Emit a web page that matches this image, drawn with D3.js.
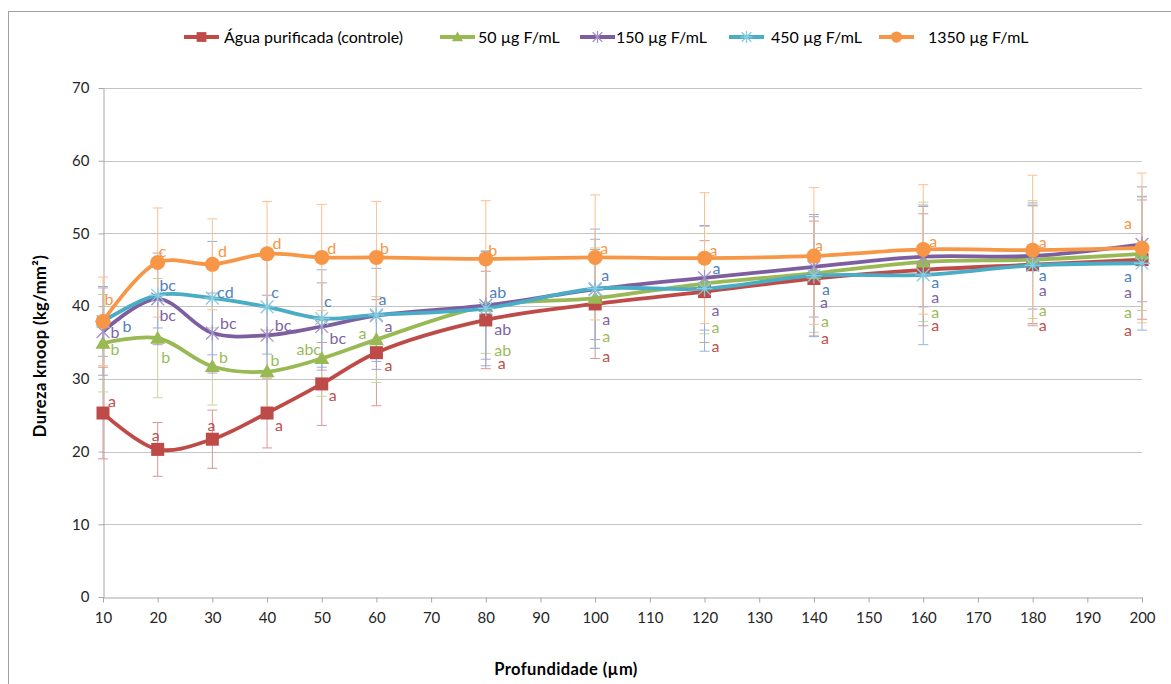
<!DOCTYPE html>
<html>
<head>
<meta charset="utf-8">
<script src="https://cdn.jsdelivr.net/npm/d3@7"></script>
<style>
  body { margin: 0; background: #fff; }
  svg { display: block; font-family: Lato, "Noto Sans", sans-serif; }
</style>
</head>
<body>
<svg id="chart" width="1171" height="684"></svg>
<script>
// depth (µm)
const depths = [10, 20, 30, 40, 50, 60, 80, 100, 120, 140, 160, 180, 200];
const xTicks = d3.range(10, 201, 10);
const yTicks = [0, 10, 20, 30, 40, 50, 60, 70];

const seriesNames = [
  "Água purificada (controle)",
  "50 µg F/mL",
  "150 µg F/mL",
  "450 µg F/mL",
  "1350 µg F/mL",
];

// Knoop hardness means, ± error and letters
const aguaMean = [25.3, 20.3, 21.7, 25.3, 29.3, 33.6, 38.1, 40.3, 42.0, 43.8, 45.0, 45.7, 46.4];
const aguaErr = [6.3, 3.7, 4.0, 4.8, 5.7, 7.3, 6.7, 7.5, 7.0, 7.9, 7.7, 8.1, 8.2];
const aguaLetters = ["a", "a", "a", "a", "a", "a", "a", "a", "a", "a", "a", "a", "a"];

const f50Mean = [34.9, 35.6, 31.7, 31.0, 32.8, 35.4, 40.0, 41.1, 43.1, 44.5, 46.1, 46.4, 47.2];
const f50Err = [6.7, 8.2, 5.3, 5.7, 5.2, 5.9, 6.5, 6.9, 6.9, 8.1, 8.2, 8.1, 7.8];
const f50Letters = ["b", "b", "b", "b", "abc", "a", "ab", "a", "a", "a", "a", "a", "a"];

const f150Mean = [36.5, 41.0, 36.3, 36.0, 37.2, 38.7, 40.1, 42.3, 43.9, 45.4, 46.8, 46.9, 48.5];
const f150Err = [6.0, 6.3, 5.5, 5.5, 6.0, 7.4, 7.4, 6.9, 7.2, 6.9, 6.9, 7.3, 7.9];
const f150Letters = ["b", "bc", "bc", "bc", "bc", "a", "ab", "a", "a", "a", "a", "a", "a"];

const f450Mean = [37.9, 41.5, 41.1, 39.9, 38.3, 38.8, 39.7, 42.4, 42.4, 44.2, 44.3, 45.6, 45.9];
const f450Err = [4.8, 4.5, 7.8, 6.5, 6.7, 6.4, 7.9, 8.2, 8.6, 8.4, 9.6, 8.3, 9.2];
const f450Letters = ["b", "bc", "cd", "c", "c", "a", "ab", "a", "a", "a", "a", "a", "a"];

const f1350Mean = [37.9, 46.0, 45.75, 47.2, 46.7, 46.7, 46.5, 46.7, 46.6, 46.9, 47.8, 47.7, 48.0];
const f1350Err = [6.1, 7.5, 6.25, 7.2, 7.3, 7.7, 8.0, 8.6, 9.0, 9.4, 8.9, 10.3, 10.3];
const f1350Letters = ["b", "c", "d", "d", "d", "b", "b", "a", "a", "a", "a", "a", "a"];

// label placement (px from the point) — layout only
const aguaLabelPos = [[9,-12],[-2,-14],[-1,-14],[12,12],[11,11],[12,13],[16,43],[11,52],[11,55],[11,60],[12,56],[10,61],[-14,71]];
const f50LabelPos = [[12,6],[8,19],[11,-9],[8,-11],[-13,-9],[-14,-6],[17,44],[11,38],[11,44],[11,48],[12,51],[10,51],[-14,59]];
const f150LabelPos = [[12,1],[10,17],[16,-10],[16,-10],[16,12],[12,11],[17,24],[11,30],[11,33],[10,36],[12,41],[10,34],[-14,48]];
const f450LabelPos = [[24,5],[10,-10],[13,-6],[8,-14],[6,-17],[6,-15],[12,-16],[10,-13],[12,-20],[12,14],[12,8],[10,10],[-14,13]];
const f1350LabelPos = [[6,-22],[5,-11],[10,-13],[10,-10],[10,-9],[8,-9],[7,-8],[9,-9],[9,-8],[5,-11],[10,-8],[10,-8],[-14,-25]];

const series = [
  { name: seriesNames[0], mean: aguaMean, err: aguaErr, letters: aguaLetters, pos: aguaLabelPos,
    line: "#be4b48", bar: "#d99694", text: "#c0504d", marker: "square" },
  { name: seriesNames[1], mean: f50Mean, err: f50Err, letters: f50Letters, pos: f50LabelPos,
    line: "#98b954", bar: "#c3d69b", text: "#9bbb59", marker: "triangle" },
  { name: seriesNames[2], mean: f150Mean, err: f150Err, letters: f150Letters, pos: f150LabelPos,
    line: "#7d5fa0", bar: "#b3a2c7", text: "#8064a2", marker: "star" },
  { name: seriesNames[3], mean: f450Mean, err: f450Err, letters: f450Letters, pos: f450LabelPos,
    line: "#4bacc6", bar: "#95b3d7", text: "#4f81bd", marker: "asterisk" },
  { name: seriesNames[4], mean: f1350Mean, err: f1350Err, letters: f1350Letters, pos: f1350LabelPos,
    line: "#f79646", bar: "#fac090", text: "#f79646", marker: "circle" },
];

const svg = d3.select("#chart");
const x = d3.scaleLinear().domain([10, 200]).range([103, 1142]);
const y = d3.scaleLinear().domain([0, 70]).range([597, 88]);

// outer chart border
svg.append("rect")
  .attr("x", 8.5).attr("y", 11.5)
  .attr("width", 1300).attr("height", 800)
  .attr("fill", "none").attr("stroke", "#a0a0a0");

// gridlines
svg.append("g")
  .selectAll("line")
  .data(yTicks.filter((d) => d > 0))
  .join("line")
  .attr("x1", x(10)).attr("x2", x(200))
  .attr("y1", (d) => Math.round(y(d)) + 0.5)
  .attr("y2", (d) => Math.round(y(d)) + 0.5)
  .attr("stroke", "#c4c4c4");

// axes
const gx = svg.append("g")
  .attr("transform", `translate(0,${Math.round(y(0)) + 0.5})`)
  .call(d3.axisBottom(x).tickValues(xTicks).tickSize(5).tickSizeOuter(0).tickPadding(10));
const gy = svg.append("g")
  .attr("transform", `translate(${Math.round(x(10)) + 0.5},0)`)
  .call(d3.axisLeft(y).tickValues(yTicks).tickSize(5).tickSizeOuter(0).tickPadding(9));
[gx, gy].forEach((g) => {
  g.selectAll(".domain, .tick line").attr("stroke", "#a6a6a6");
  g.selectAll(".tick text")
    .attr("fill", "#262626")
    .style("font-size", "15px")
    .style("font-family", "Lato, 'Noto Sans', sans-serif");
});

// axis titles
svg.append("text")
  .attr("transform", "translate(46,346) rotate(-90)")
  .attr("text-anchor", "middle")
  .attr("font-weight", "bold")
  .attr("font-size", 16.5)
  .attr("letter-spacing", "0.4px")
  .attr("fill", "#000")
  .text("Dureza knoop (kg/mm²)");
svg.append("text")
  .attr("x", 566).attr("y", 675)
  .attr("text-anchor", "middle")
  .attr("font-weight", "bold")
  .attr("font-size", 16.5)
  .attr("letter-spacing", "0.4px")
  .attr("fill", "#000")
  .text("Profundidade (µm)");

// error bars
const gErr = svg.append("g");
series.forEach((s) => {
  const g = gErr.append("g").attr("stroke", s.bar).attr("stroke-width", 1);
  depths.forEach((d, i) => {
    const cx = x(d);
    const lo = y(s.mean[i] - s.err[i]);
    const hi = y(s.mean[i] + s.err[i]);
    g.append("line").attr("x1", cx).attr("x2", cx).attr("y1", lo).attr("y2", hi);
    g.append("line").attr("x1", cx - 5).attr("x2", cx + 5).attr("y1", lo).attr("y2", lo);
    g.append("line").attr("x1", cx - 5).attr("x2", cx + 5).attr("y1", hi).attr("y2", hi);
  });
});

const line = d3.line()
  .x((d) => x(d[0]))
  .y((d) => y(d[1]))
  .curve(d3.curveCatmullRom.alpha(0.5));

function drawMarker(g, type, color, cx, cy, scale = 1) {
  if (type === "square") {
    const h = 6.5 * scale;
    g.append("rect").attr("x", cx - h).attr("y", cy - h)
      .attr("width", 2 * h).attr("height", 2 * h).attr("fill", color);
  } else if (type === "triangle") {
    const h = 7.5 * scale;
    g.append("path")
      .attr("d", `M${cx},${cy - h}L${cx + h},${cy + h * 0.75}L${cx - h},${cy + h * 0.75}Z`)
      .attr("fill", color);
  } else if (type === "circle") {
    g.append("circle").attr("cx", cx).attr("cy", cy).attr("r", 7.5 * scale).attr("fill", color);
  } else {
    const r = 8 * scale;
    const col = type === "star" ? "#a493c6" : "#86cbe0";
    let p = `M${cx - r * 0.8},${cy - r * 0.8}L${cx + r * 0.8},${cy + r * 0.8}M${cx - r * 0.8},${cy + r * 0.8}L${cx + r * 0.8},${cy - r * 0.8}`;
    p += `M${cx},${cy - r}L${cx},${cy + r}`;
    if (type === "asterisk") p += `M${cx - r},${cy}L${cx + r},${cy}`;
    g.append("path").attr("d", p).attr("stroke", col).attr("stroke-width", 1.3).attr("fill", "none");
  }
}

// lines + markers
series.forEach((s) => {
  const pts = depths.map((d, i) => [d, s.mean[i]]);
  const g = svg.append("g");
  g.append("path")
    .attr("d", line(pts))
    .attr("fill", "none")
    .attr("stroke", s.line)
    .attr("stroke-width", 3.8)
    .attr("stroke-linejoin", "round");
  pts.forEach((p) => drawMarker(g, s.marker, s.line, x(p[0]), y(p[1])));
});

// letter labels
series.forEach((s) => {
  svg.append("g")
    .selectAll("text")
    .data(depths)
    .join("text")
    .attr("x", (d, i) => x(d) + s.pos[i][0])
    .attr("y", (d, i) => y(s.mean[i]) + s.pos[i][1])
    .attr("dy", "0.35em")
    .attr("text-anchor", "middle")
    .attr("font-size", 16)
    .attr("fill", s.text)
    .text((d, i) => s.letters[i]);
});

// legend
const legendX = [184, 440, 580, 729, 879];
const legendTextX = [224, 478, 616, 771, 928];
const legendY = 37;
const gLeg = svg.append("g");
series.forEach((s, i) => {
  const g = gLeg.append("g");
  g.append("line")
    .attr("x1", legendX[i]).attr("x2", legendX[i] + 35)
    .attr("y1", legendY).attr("y2", legendY)
    .attr("stroke", s.line).attr("stroke-width", 3.8);
  drawMarker(g, s.marker, s.line, legendX[i] + 17.5, legendY, 0.75);
  g.append("text")
    .attr("x", legendTextX[i]).attr("y", legendY)
    .attr("dy", "0.35em")
    .attr("font-size", 16)
    .attr("fill", "#000")
    .text(s.name);
});
</script>
</body>
</html>
